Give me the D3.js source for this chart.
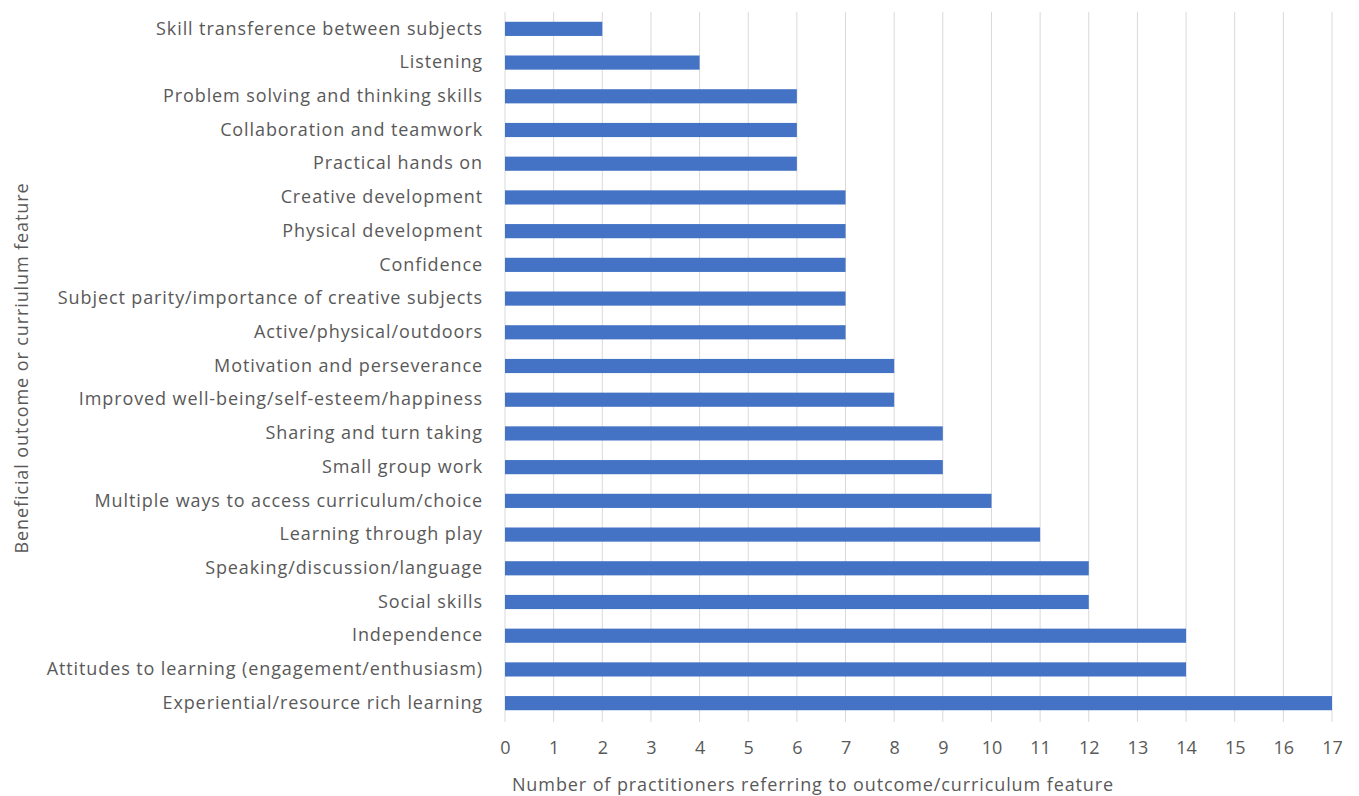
<!DOCTYPE html>
<html>
<head>
<script src="https://cdn.jsdelivr.net/npm/d3@7"></script>
<style>
  body { margin: 0; background: #fff; }
  text { font-family: "Open Sans", sans-serif; fill: #595959; font-size: 18px; letter-spacing: 0.9px; }
</style>
</head>
<body>
<svg id="chart" width="1359" height="796"></svg>
<script>
// categories top to bottom
var categories = [
  "Skill transference between subjects",
  "Listening",
  "Problem solving and thinking skills",
  "Collaboration and teamwork",
  "Practical hands on",
  "Creative development",
  "Physical development",
  "Confidence",
  "Subject parity/importance of creative subjects",
  "Active/physical/outdoors",
  "Motivation and perseverance",
  "Improved well-being/self-esteem/happiness",
  "Sharing and turn taking",
  "Small group work",
  "Multiple ways to access curriculum/choice",
  "Learning through play",
  "Speaking/discussion/language",
  "Social skills",
  "Independence",
  "Attitudes to learning (engagement/enthusiasm)",
  "Experiential/resource rich learning"
];
var counts = [2, 4, 6, 6, 6, 7, 7, 7, 7, 7, 8, 8, 9, 9, 10, 11, 12, 12, 14, 14, 17];
var xTicks = d3.range(0, 18);

var svg = d3.select("#chart");
var mLeft = 505, mRight = 1332, mTop = 12, mBottom = 720;

var x = d3.scaleLinear().domain([0, 17]).range([mLeft, mRight]);
var y = d3.scaleBand().domain(categories).range([mTop, mBottom]).paddingInner(0.58).paddingOuter(0.29);

// gridlines
svg.append("g")
  .selectAll("line")
  .data(xTicks)
  .enter().append("line")
    .attr("x1", function(d){ return x(d) })
    .attr("x2", function(d){ return x(d) })
    .attr("y1", mTop)
    .attr("y2", mBottom + 2)
    .style("stroke", "#d9d9d9")
    .style("stroke-width", 1);

// bars
svg.append("g")
  .selectAll("rect")
  .data(categories)
  .enter().append("rect")
    .attr("x", x(0))
    .attr("y", function(d){ return y(d) })
    .attr("width", function(d, i){ return x(counts[i]) - x(0) })
    .attr("height", y.bandwidth())
    .style("fill", "#4472c4");

// y axis labels
var yAxis = d3.axisLeft(y).tickSize(0).tickPadding(22);
var gy = svg.append("g").attr("transform", "translate(" + mLeft + ",0)").call(yAxis);
gy.select(".domain").remove();
gy.attr("font-family", null).attr("font-size", null);
gy.selectAll("text").attr("fill", "#595959");

// x axis labels
var xAxis = d3.axisBottom(x).tickValues(xTicks).tickSize(0).tickPadding(21);
var gx = svg.append("g").attr("transform", "translate(0," + mBottom + ")").call(xAxis);
gx.select(".domain").remove();
gx.attr("font-family", null).attr("font-size", null);
gx.selectAll("text").attr("fill", "#595959").style("letter-spacing", "0px");

// axis titles
svg.append("text")
  .attr("x", 813)
  .attr("y", 791)
  .attr("text-anchor", "middle")
  .text("Number of practitioners referring to outcome/curriculum feature");

svg.append("text")
  .attr("transform", "translate(28,368) rotate(-90)")
  .attr("text-anchor", "middle")
  .text("Beneficial outcome or curriulum feature");
</script>
</body>
</html>
